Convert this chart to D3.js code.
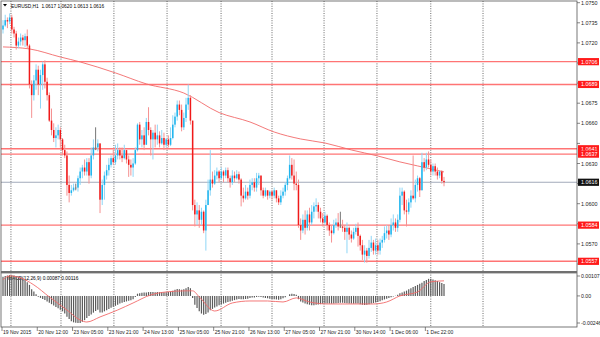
<!DOCTYPE html>
<html>
<head>
<meta charset="utf-8">
<script src="https://cdn.jsdelivr.net/npm/d3@7"></script>
<style>
body { margin: 0; background: #fff; }
svg { display: block; font-family: "Liberation Sans", sans-serif; }
</style>
</head>
<body>
<div id="chart"></div>
<script>
'use strict';

// EURUSD H1 bars, open = previous close
const firstOpen = 1.0730;
const closes = [
  1.0733, 1.0737, 1.0736, 1.0739, 1.0730, 1.0727, 1.0718, 1.0721, 1.0724, 1.0722,
  1.0725, 1.0718, 1.0689, 1.0681, 1.0692, 1.0700, 1.0689, 1.0696, 1.0704, 1.0691,
  1.0681, 1.0662, 1.0655, 1.0649, 1.0651, 1.0655, 1.0648, 1.0640, 1.0636, 1.0614,
  1.0608, 1.0610, 1.0612, 1.0612, 1.0619, 1.0624, 1.0627, 1.0624, 1.0631, 1.0621,
  1.0636, 1.0642, 1.0642, 1.0645, 1.0603, 1.0614, 1.0621, 1.0625, 1.0629, 1.0634,
  1.0631, 1.0636, 1.0640, 1.0636, 1.0634, 1.0640, 1.0633, 1.0629, 1.0627, 1.0630,
  1.0640, 1.0659, 1.0648, 1.0651, 1.0644, 1.0661, 1.0655, 1.0648, 1.0653, 1.0648,
  1.0651, 1.0645, 1.0649, 1.0644, 1.0648, 1.0644, 1.0649, 1.0659, 1.0665, 1.0674,
  1.0670, 1.0657, 1.0664, 1.0674, 1.0679, 1.0662, 1.0599, 1.0592, 1.0595, 1.0588,
  1.0594, 1.0580, 1.0599, 1.0610, 1.0618, 1.0615, 1.0621, 1.0624, 1.0619, 1.0624,
  1.0621, 1.0625, 1.0619, 1.0616, 1.0621, 1.0619, 1.0622, 1.0618, 1.0606, 1.0604,
  1.0609, 1.0606, 1.0614, 1.0616, 1.0612, 1.0619, 1.0621, 1.0610, 1.0606, 1.0610,
  1.0606, 1.0609, 1.0606, 1.0610, 1.0604, 1.0601, 1.0606, 1.0609, 1.0614, 1.0619,
  1.0629, 1.0621, 1.0615, 1.0614, 1.0584, 1.0580, 1.0588, 1.0582, 1.0592, 1.0586,
  1.0594, 1.0598, 1.0599, 1.0594, 1.0589, 1.0586, 1.0591, 1.0584, 1.0580, 1.0578,
  1.0584, 1.0586, 1.0583, 1.0583, 1.0582, 1.0579, 1.0582, 1.0577, 1.0574, 1.0579,
  1.0582, 1.0576, 1.0569, 1.0562, 1.0565, 1.0561, 1.0567, 1.0571, 1.0565, 1.0569,
  1.0565, 1.0571, 1.0573, 1.0578, 1.0580, 1.0577, 1.0584, 1.0586, 1.0582, 1.0588,
  1.0606, 1.0609, 1.0595, 1.0594, 1.0601, 1.0606, 1.0604, 1.0614, 1.0619, 1.0610,
  1.0631, 1.0627, 1.0633, 1.0629, 1.0624, 1.0628, 1.0624, 1.0621, 1.0624, 1.0617,
  1.0616
];
const highs = [
  1.0737, 1.0741, 1.0739, 1.0742, 1.0741, 1.0732, 1.0729, 1.0724, 1.0727, 1.0726,
  1.0727, 1.0730, 1.0719, 1.0692, 1.0696, 1.0704, 1.0703, 1.0700, 1.0706, 1.0707,
  1.0694, 1.0683, 1.0671, 1.0660, 1.0657, 1.0659, 1.0657, 1.0649, 1.0644, 1.0639,
  1.0621, 1.0614, 1.0615, 1.0615, 1.0621, 1.0627, 1.0629, 1.0633, 1.0634, 1.0634,
  1.0642, 1.0648, 1.0657, 1.0648, 1.0645, 1.0618, 1.0624, 1.0629, 1.0634, 1.0636,
  1.0640, 1.0644, 1.0645, 1.0642, 1.0642, 1.0644, 1.0640, 1.0636, 1.0633, 1.0634,
  1.0642, 1.0660, 1.0661, 1.0655, 1.0657, 1.0664, 1.0672, 1.0657, 1.0655, 1.0659,
  1.0659, 1.0654, 1.0655, 1.0653, 1.0649, 1.0651, 1.0657, 1.0666, 1.0668, 1.0677,
  1.0677, 1.0674, 1.0668, 1.0679, 1.0689, 1.0681, 1.0662, 1.0603, 1.0601, 1.0599,
  1.0597, 1.0595, 1.0603, 1.0618, 1.0640, 1.0624, 1.0625, 1.0627, 1.0625, 1.0627,
  1.0625, 1.0627, 1.0627, 1.0621, 1.0625, 1.0624, 1.0625, 1.0624, 1.0619, 1.0612,
  1.0614, 1.0612, 1.0618, 1.0619, 1.0619, 1.0623, 1.0623, 1.0621, 1.0612, 1.0612,
  1.0610, 1.0610, 1.0610, 1.0612, 1.0610, 1.0606, 1.0610, 1.0612, 1.0616, 1.0621,
  1.0636, 1.0634, 1.0633, 1.0624, 1.0618, 1.0589, 1.0592, 1.0595, 1.0595, 1.0597,
  1.0599, 1.0601, 1.0604, 1.0601, 1.0597, 1.0593, 1.0594, 1.0592, 1.0586, 1.0584,
  1.0588, 1.0589, 1.0593, 1.0594, 1.0588, 1.0584, 1.0586, 1.0583, 1.0580, 1.0582,
  1.0585, 1.0586, 1.0577, 1.0573, 1.0569, 1.0567, 1.0573, 1.0576, 1.0573, 1.0574,
  1.0573, 1.0574, 1.0576, 1.0583, 1.0584, 1.0584, 1.0589, 1.0592, 1.0589, 1.0592,
  1.0612, 1.0612, 1.0610, 1.0603, 1.0604, 1.0610, 1.0636, 1.0618, 1.0621, 1.0620,
  1.0638, 1.0634, 1.0638, 1.0639, 1.0633, 1.0630, 1.0630, 1.0627, 1.0625, 1.0625,
  1.0620
];
const lows = [
  1.0727, 1.0732, 1.0731, 1.0734, 1.0727, 1.0724, 1.0715, 1.0716, 1.0718, 1.0718,
  1.0717, 1.0716, 1.0686, 1.0664, 1.0677, 1.0685, 1.0681, 1.0671, 1.0685, 1.0686,
  1.0677, 1.0661, 1.0651, 1.0646, 1.0642, 1.0648, 1.0642, 1.0636, 1.0634, 1.0606,
  1.0601, 1.0606, 1.0609, 1.0610, 1.0609, 1.0614, 1.0619, 1.0621, 1.0621, 1.0615,
  1.0619, 1.0633, 1.0640, 1.0639, 1.0593, 1.0599, 1.0603, 1.0618, 1.0621, 1.0627,
  1.0629, 1.0629, 1.0633, 1.0633, 1.0631, 1.0633, 1.0630, 1.0620, 1.0621, 1.0620,
  1.0629, 1.0639, 1.0644, 1.0642, 1.0640, 1.0644, 1.0651, 1.0636, 1.0633, 1.0642,
  1.0644, 1.0642, 1.0644, 1.0640, 1.0642, 1.0642, 1.0643, 1.0648, 1.0657, 1.0662,
  1.0666, 1.0654, 1.0655, 1.0661, 1.0670, 1.0659, 1.0595, 1.0583, 1.0584, 1.0582,
  1.0584, 1.0578, 1.0565, 1.0599, 1.0606, 1.0612, 1.0614, 1.0618, 1.0616, 1.0618,
  1.0616, 1.0619, 1.0616, 1.0612, 1.0614, 1.0616, 1.0618, 1.0615, 1.0598, 1.0601,
  1.0603, 1.0603, 1.0604, 1.0610, 1.0609, 1.0609, 1.0614, 1.0606, 1.0604, 1.0605,
  1.0603, 1.0604, 1.0603, 1.0604, 1.0601, 1.0599, 1.0599, 1.0604, 1.0606, 1.0610,
  1.0618, 1.0618, 1.0610, 1.0610, 1.0582, 1.0573, 1.0578, 1.0577, 1.0580, 1.0580,
  1.0584, 1.0589, 1.0594, 1.0589, 1.0586, 1.0583, 1.0584, 1.0580, 1.0576, 1.0571,
  1.0577, 1.0582, 1.0580, 1.0582, 1.0579, 1.0573, 1.0563, 1.0573, 1.0571, 1.0573,
  1.0577, 1.0568, 1.0565, 1.0558, 1.0556, 1.0556, 1.0559, 1.0564, 1.0562, 1.0562,
  1.0562, 1.0562, 1.0567, 1.0571, 1.0574, 1.0573, 1.0575, 1.0580, 1.0579, 1.0579,
  1.0586, 1.0599, 1.0592, 1.0583, 1.0592, 1.0597, 1.0603, 1.0601, 1.0609, 1.0605,
  1.0610, 1.0624, 1.0625, 1.0627, 1.0621, 1.0621, 1.0621, 1.0618, 1.0619, 1.0615,
  1.0613
];

// moving average, read at a few bars
const maBars = [0, 12, 26, 35, 51, 65, 82, 98, 112, 123, 135, 146, 158, 170, 180, 188, 200];
const maValues = [1.0717, 1.07155, 1.07095, 1.07058, 1.06976, 1.06894, 1.06826, 1.0668, 1.0661, 1.06535,
  1.06483, 1.06453, 1.06401, 1.06356, 1.06312, 1.06282, 1.06237];

// MACD(12,26,9) histogram per bar and signal line
const macdHist = [
  0.00175, 0.00180, 0.00185, 0.00190, 0.00188, 0.00185, 0.00180, 0.00175, 0.00168, 0.00160,
  0.00145, 0.00125, 0.00100, 0.00060, 0.00040, 0.00015, -0.00008, -0.00018, -0.00028, -0.00038,
  -0.00050, -0.00062, -0.00075, -0.00088, -0.00100, -0.00112, -0.00125, -0.00140, -0.00160, -0.00190,
  -0.00210, -0.00230, -0.00240, -0.00244, -0.00246, -0.00246, -0.00235, -0.00220, -0.00200, -0.00182,
  -0.00168, -0.00152, -0.00138, -0.00125, -0.00150, -0.00150, -0.00140, -0.00130, -0.00118, -0.00108,
  -0.00098, -0.00090, -0.00080, -0.00070, -0.00062, -0.00055, -0.00050, -0.00045, -0.00040, -0.00030,
  -0.00010, 0.00020, 0.00025, 0.00028, 0.00030, 0.00032, 0.00035, 0.00035, 0.00036, 0.00034,
  0.00036, 0.00034, 0.00035, 0.00033, 0.00034, 0.00036, 0.00040, 0.00048, 0.00055, 0.00062,
  0.00060, 0.00055, 0.00060, 0.00070, 0.00080, 0.00070, -0.00020, -0.00080, -0.00110, -0.00140,
  -0.00160, -0.00170, -0.00165, -0.00150, -0.00130, -0.00118, -0.00105, -0.00095, -0.00085, -0.00078,
  -0.00070, -0.00062, -0.00055, -0.00050, -0.00045, -0.00038, -0.00032, -0.00028, -0.00030, -0.00030,
  -0.00028, -0.00025, -0.00020, -0.00015, -0.00015, -0.00010, -0.00008, -0.00010, -0.00015, -0.00020,
  -0.00022, -0.00025, -0.00028, -0.00030, -0.00032, -0.00035, -0.00030, -0.00022, -0.00012, 0.00000,
  0.00015, 0.00020, 0.00018, 0.00010, -0.00030, -0.00050, -0.00060, -0.00070, -0.00075, -0.00080,
  -0.00085, -0.00085, -0.00080, -0.00078, -0.00075, -0.00072, -0.00070, -0.00068, -0.00068, -0.00070,
  -0.00068, -0.00066, -0.00064, -0.00062, -0.00062, -0.00064, -0.00066, -0.00068, -0.00070, -0.00070,
  -0.00068, -0.00070, -0.00075, -0.00080, -0.00082, -0.00080, -0.00075, -0.00070, -0.00065, -0.00060,
  -0.00055, -0.00048, -0.00040, -0.00032, -0.00025, -0.00020, -0.00012, -0.00005, 0.00002, 0.00010,
  0.00025, 0.00032, 0.00040, 0.00048, 0.00060, 0.00070, 0.00080, 0.00090, 0.00100, 0.00110,
  0.00120, 0.00135, 0.00145, 0.00155, 0.00155, 0.00150, 0.00142, 0.00135, 0.00125, 0.00118,
  0.00108
];
const sigBars = [0, 3, 8, 14, 21, 29, 35, 38, 44, 52, 59, 67, 74, 83, 86, 89, 96, 104, 112, 120,
  127, 133, 139, 147, 157, 168, 174, 180, 188, 194, 200];
const sigValues = [0.00146, 0.00182, 0.00164, 0.00100, -0.00009, -0.00128, -0.00219, -0.00237, -0.00191, -0.00128,
  -0.00064, 0.00009, 0.00036, 0.00046, 0.00046, -0.00009, -0.00137, -0.00064, -0.00046, -0.00046,
  -0.00055, -0.00018, -0.00055, -0.00073, -0.00073, -0.00073, -0.00055, 0.00000, 0.00036, 0.00128, 0.00137];

// horizontal levels and axis labels
const levels = [1.0706, 1.0689, 1.0641, 1.0637, 1.0584, 1.0557];
const lastPrice = 1.0616;
const priceTicks = [1.0555, 1.0570, 1.0585, 1.0600, 1.0615, 1.0630, 1.0645, 1.0660, 1.0675, 1.0690, 1.0705, 1.0720, 1.0735, 1.0750];
const macdTicks = ['0.00107', '0.00', '-0.00246'];
const timeBars = [0, 16, 32, 48, 64, 80, 96, 112, 128, 144, 160, 176, 192];
const timeLabels = ['19 Nov 2015', '20 Nov 12:00', '23 Nov 05:00', '23 Nov 21:00', '24 Nov 13:00', '25 Nov 05:00',
  '25 Nov 21:00', '26 Nov 13:00', '27 Nov 05:00', '27 Nov 21:00', '30 Nov 14:00', '1 Dec 06:00', '1 Dec 22:00'];
const gridBars = [3.6, 26.3, 50.3, 74.4, 98.9, 122, 145.6, 169.6, 194, 217.7];
const title = 'EURUSD,H1  1.0617 1.0620 1.0613 1.0616';
const macdTitle = 'MACD(12,26,9) 0.00087 0.00116';

const width = 600, height = 337;
const axisX = 577;
const mainBottom = 270;
const panelBottom = 327;

const svg = d3.select('#chart').append('svg')
    .attr('width', width)
    .attr('height', height);

const xScale = d3.scaleLinear().domain([0, 200]).range([3, 444]);
const yScale = d3.scaleLinear().domain([1.0555, 1.0750]).range([264, 2.7]);
const mScale = d3.scaleLinear().domain([-0.00246, 0.0019]).range([323, 275]);

const bars = closes.map((c, i) => ({
    i: i,
    o: i === 0 ? firstOpen : closes[i - 1],
    h: highs[i],
    l: lows[i],
    c: c
}));

// vertical dotted grid
svg.append('g').selectAll('line')
    .data(gridBars)
    .enter().append('line')
    .attr('x1', d => xScale(d)).attr('x2', d => xScale(d))
    .attr('y1', 1).attr('y2', panelBottom)
    .attr('stroke', '#444')
    .attr('stroke-width', 0.8)
    .attr('stroke-dasharray', '1,1.4');

// last price line
svg.append('line')
    .attr('x1', 1).attr('x2', axisX)
    .attr('y1', yScale(lastPrice)).attr('y2', yScale(lastPrice))
    .attr('stroke', '#a3abbb')
    .attr('stroke-width', 1);

// level lines
svg.append('g').selectAll('line')
    .data(levels)
    .enter().append('line')
    .attr('x1', 1).attr('x2', axisX)
    .attr('y1', d => yScale(d)).attr('y2', d => yScale(d))
    .attr('stroke', '#ff7474')
    .attr('stroke-width', 1.4);

// moving average
let maLine = d3.line()
    .x(d => xScale(d[0]))
    .y(d => yScale(d[1]))
    .curve(d3.curveMonotoneX);
svg.append('path')
    .datum(maBars.map((b, k) => [b, maValues[k]]))
    .attr('d', maLine)
    .attr('fill', 'none')
    .attr('stroke', '#f26a6a')
    .attr('stroke-width', 0.9);

// candles
function candleColor(d, wick) {
    if (d.c > d.o) return wick ? '#8fd6f6' : '#1fb5ee';
    if (d.c < d.o) return wick ? '#f59292' : '#f01a1a';
    return '#777';
}

let candle = svg.append('g').selectAll('g')
    .data(bars)
    .enter().append('g');

candle.append('line')
    .attr('x1', d => xScale(d.i)).attr('x2', d => xScale(d.i))
    .attr('y1', d => yScale(d.h)).attr('y2', d => yScale(d.l))
    .attr('stroke', d => candleColor(d, true))
    .attr('stroke-width', 1);

candle.append('rect')
    .attr('x', d => xScale(d.i) - 0.75)
    .attr('width', 1.5)
    .attr('y', d => yScale(Math.max(d.o, d.c)))
    .attr('height', d => Math.max(0.8, Math.abs(yScale(d.o) - yScale(d.c))))
    .attr('fill', d => candleColor(d, false));

// title
svg.append('path')
    .attr('d', 'M3,4 L7,4 L5,6.5 Z')
    .attr('fill', '#000');
svg.append('text')
    .text(title)
    .attr('x', 11).attr('y', 8)
    .attr('font-size', 4.8)
    .attr('fill', '#000')
    .style('white-space', 'pre');

// MACD panel
svg.append('text')
    .text(macdTitle)
    .attr('x', 8).attr('y', 280)
    .attr('font-size', 4.8)
    .attr('fill', '#000');

svg.append('g').selectAll('line')
    .data(macdHist)
    .enter().append('line')
    .attr('x1', (d, i) => xScale(i)).attr('x2', (d, i) => xScale(i))
    .attr('y1', mScale(0)).attr('y2', d => mScale(d))
    .attr('stroke', '#5a5a5a')
    .attr('stroke-width', 1.2);

let sigLine = d3.line()
    .x(d => xScale(d[0]))
    .y(d => mScale(d[1]))
    .curve(d3.curveMonotoneX);
svg.append('path')
    .datum(sigBars.map((b, k) => [b, sigValues[k]]))
    .attr('d', sigLine)
    .attr('fill', 'none')
    .attr('stroke', '#f26a6a')
    .attr('stroke-width', 0.9);

// frames
svg.append('rect')
    .attr('x', 1).attr('y', 1)
    .attr('width', axisX - 1).attr('height', panelBottom - 1)
    .attr('fill', 'none')
    .attr('stroke', '#555')
    .attr('stroke-width', 0.8);
svg.append('rect')
    .attr('x', 1).attr('y', mainBottom + 1)
    .attr('width', axisX - 1).attr('height', 2.4)
    .attr('fill', '#707070');

// price axis, labels under a tag are hidden
const tagList = levels.map(v => ({ v: v, bg: '#ff1a1a' })).concat([{ v: lastPrice, bg: '#111' }]);
const isCovered = p => tagList.some(t => Math.abs(yScale(t.v) - yScale(p)) < 7);

let priceAxis = svg.append('g');
priceAxis.selectAll('line')
    .data(priceTicks)
    .enter().append('line')
    .attr('x1', axisX).attr('x2', axisX + 3)
    .attr('y1', d => yScale(d)).attr('y2', d => yScale(d))
    .attr('stroke', '#555')
    .attr('stroke-width', 0.7);
priceAxis.selectAll('text')
    .data(priceTicks.filter(p => !isCovered(p)))
    .enter().append('text')
    .text(d => d.toFixed(4))
    .attr('x', axisX + 4).attr('y', d => yScale(d) + 2)
    .attr('font-size', 5.4)
    .attr('fill', '#222');

// level tags
let tags = svg.append('g').selectAll('g')
    .data(tagList)
    .enter().append('g');
tags.append('rect')
    .attr('x', axisX + 1).attr('y', d => yScale(d.v) - 3.6)
    .attr('width', 21).attr('height', 7.2)
    .attr('fill', d => d.bg);
tags.append('text')
    .text(d => d.v.toFixed(4))
    .attr('x', axisX + 4).attr('y', d => yScale(d.v) + 2)
    .attr('font-size', 5.4)
    .attr('fill', '#fff');

// MACD axis
let macdPos = [mScale.range()[1] + 1, mScale(0), mScale.range()[0]];
svg.append('g').selectAll('text')
    .data(macdTicks)
    .enter().append('text')
    .text(d => d)
    .attr('x', axisX + 4).attr('y', (d, i) => macdPos[i] + 2)
    .attr('font-size', 5.2)
    .attr('fill', '#222');
svg.append('g').selectAll('line')
    .data(macdPos)
    .enter().append('line')
    .attr('x1', axisX).attr('x2', axisX + 3)
    .attr('y1', d => d).attr('y2', d => d)
    .attr('stroke', '#555')
    .attr('stroke-width', 0.7);

// time axis
let timeAxis = svg.append('g').selectAll('g')
    .data(timeBars)
    .enter().append('g');
timeAxis.append('line')
    .attr('x1', d => xScale(d) - 1).attr('x2', d => xScale(d) - 1)
    .attr('y1', panelBottom).attr('y2', panelBottom + 4)
    .attr('stroke', '#555')
    .attr('stroke-width', 0.7);
timeAxis.append('text')
    .text((d, i) => timeLabels[i])
    .attr('x', d => xScale(d))
    .attr('y', panelBottom + 6.5)
    .attr('font-size', 5)
    .attr('fill', '#222');
</script>
</body>
</html>
